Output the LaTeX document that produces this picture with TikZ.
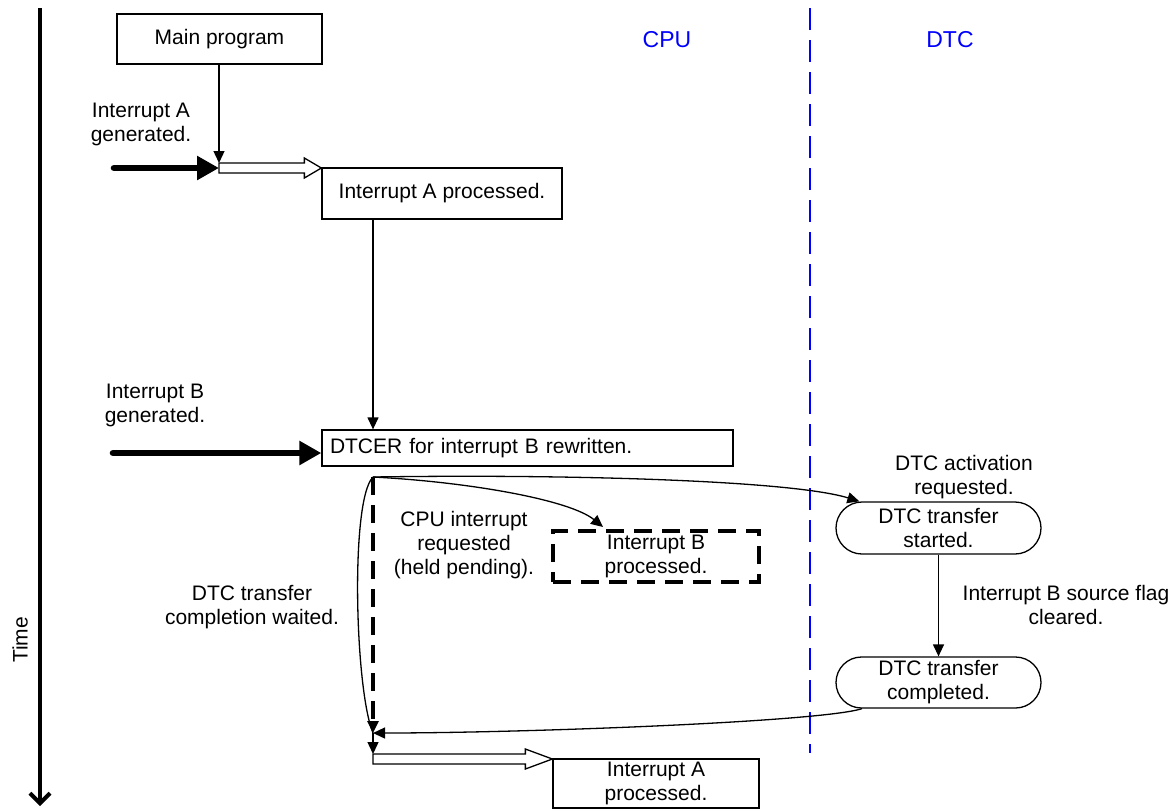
\documentclass[tikz,border=0pt]{standalone}
\usepackage{fontspec}
\setmainfont{Liberation Sans}
\usetikzlibrary{arrows.meta,calc,positioning}
\definecolor{lineblue}{RGB}{0,0,255}
\tikzset{
  txt/.style={font=\fontsize{10.5pt}{12pt}\selectfont, align=center, inner sep=0pt},
  head/.style={font=\fontsize{11.5pt}{13pt}\selectfont, text=lineblue, inner sep=0pt},
  box/.style={draw, line width=0.65pt, txt, inner sep=0pt},
  rbox/.style={box, rounded corners=12.75pt},
  dbox/.style={box, line width=1.6pt, dash pattern=on 9pt off 5pt},
  thinarrow/.style={line width=0.65pt, -{Triangle[length=6pt,width=5.5pt]}},
  thinline/.style={line width=0.65pt},
  thickarrow/.style={line width=3.3pt, line cap=round, -{Triangle[length=11pt,width=11.5pt]}},
  dashedarrow/.style={line width=1.7pt, dash pattern=on 9pt off 5pt, -{Triangle[length=6pt,width=5.5pt]}},
  bluedash/.style={line width=1.1pt, lineblue, dash pattern=on 11pt off 5pt},
  timeaxis/.style={line width=2pt, -{Straight Barb[length=5pt,width=10pt]}}
}
\newcommand\hollowarrow[3]{%
  \draw[thinline, fill=white] let \p1=(#1), \p2=(#2) in
    (\x1,\y1+2.5pt) -- (\x2-#3,\y1+2.5pt) -- (\x2-#3,\y1+5pt) -- (\x2,\y1)
    -- (\x2-#3,\y1-5pt) -- (\x2-#3,\y1-2.5pt) -- (\x1,\y1-2.5pt) -- cycle;}
\begin{document}
\begin{tikzpicture}[x=0.5pt,y=-0.5pt]
\useasboundingbox (0,0) rectangle (1176,810);

% time axis
\coordinate (ttop) at (40,8);
\coordinate (tbot) at (40,806);
\draw[timeaxis] (ttop) -- (tbot);
\node[txt, rotate=90] (time) at (20,640) {Time};

% lane separator and headings
\coordinate (sepT) at (810,8);
\coordinate (sepB) at (810,753);
\draw[bluedash] (sepT) -- (sepB);
\node[head] (cpu) at (667,40) {CPU};
\node[head] (dtc) at (950,40) {DTC};

% boxes
\node[box, minimum width=102.5pt, minimum height=25pt] (main) at (219.5,39) {Main program};
\node[box, minimum width=120pt, minimum height=25.5pt] (ia) at (442,193.5) {Interrupt A processed.};
\node[box, minimum width=205.5pt, minimum height=18pt, text width=197.5pt, align=left, inner xsep=4pt] (dtcer) at (527.5,448) {DTCER for interrupt B rewritten.};
\node[dbox, minimum width=103pt, minimum height=25.5pt] (ib) at (656,556.5) {Interrupt B\\processed.};
\node[box, minimum width=103pt, minimum height=24.5pt] (ia2) at (656,783.5) {Interrupt A\\processed.};
\node[rbox, minimum width=102.5pt, minimum height=26pt, rounded corners=13pt] (ds) at (938.5,528) {DTC transfer\\started.};
\node[rbox, minimum width=102.5pt, minimum height=25.5pt] (dc) at (938.5,682.5) {DTC transfer\\completed.};

% labels
\node[txt] (lA) at (141,124) {Interrupt A\\generated.};
\node[txt] (lB) at (155,405) {Interrupt B\\generated.};
\node[txt] (lreq) at (464,545) {CPU interrupt\\requested\\(held pending).};
\node[txt] (lwait) at (252,607) {DTC transfer\\completion waited.};
\node[txt] (lact) at (964,477) {DTC activation\\requested.};
\node[txt] (lflag) at (1066,605) {Interrupt B source flag\\cleared.};

% junctions
\coordinate (JA) at (219,168);
\coordinate (sA) at (114,168);
\coordinate (sB) at (113,453);
\coordinate (J2) at (373,477);
\coordinate (J3) at (373,733);
\coordinate (J4) at (373,759);
\coordinate (tipS) at ($(ds.north west)+(24,0)$);
\coordinate (tipB) at (603,527);
\coordinate (dcout) at ($(dc.south)+(-76.5,0)$);

% interrupt A
\draw[thinarrow] (main.south -| JA) -- ($(JA)+(0,-5)$);
\draw[thickarrow] (sA) -- (JA);
\hollowarrow{JA}{ia.north west}{8.5pt}

% to DTCER
\draw[thinarrow] (J2 |- ia.south) -- (J2 |- dtcer.north);
\draw[thickarrow] (sB) -- (dtcer.west |- sB);

% from DTCER
\draw[thinarrow] (J2) .. controls (560,474) and (790,480) .. (tipS);
\draw[thinarrow] (J2) .. controls (470,482) and (570,500) .. (tipB);
\draw[thinline] (J2) .. controls (350,500) and (355,690) .. (J3);
\draw[dashedarrow] (J2) -- (J3);

% DTC side
\draw[thinarrow] (ds.south) -- (dc.north);
\draw[thinarrow] (dcout) .. controls (820,722) and (520,733) .. (J3);

% resume A
\draw[thinarrow] (J3) -- ($(J4)+(0,-5)$);
\hollowarrow{J4}{ia2.north west}{13.5pt}
\end{tikzpicture}
\end{document}
